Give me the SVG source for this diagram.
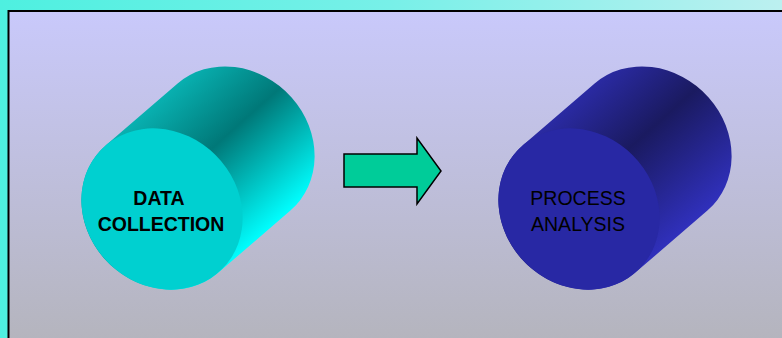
<svg xmlns="http://www.w3.org/2000/svg" width="782" height="338" viewBox="0 0 782 338">
  <defs>
    <linearGradient id="bgTop" x1="0" y1="0" x2="1" y2="0">
      <stop offset="0" stop-color="#4ef0e0"/>
      <stop offset="0.5" stop-color="#78f0e8"/>
      <stop offset="1" stop-color="#bcf0f0"/>
    </linearGradient>
    <linearGradient id="panel" x1="0" y1="0" x2="0" y2="1">
      <stop offset="0" stop-color="#c9c9fb"/>
      <stop offset="1" stop-color="#b0b0b0"/>
    </linearGradient>
    <linearGradient id="tealBody" gradientUnits="userSpaceOnUse" x1="177.6" y1="83.5" x2="290.4" y2="210.6">
      <stop offset="0" stop-color="#08b0b0"/>
      <stop offset="0.42" stop-color="#007878"/>
      <stop offset="1" stop-color="#00ffff"/>
    </linearGradient>
    <linearGradient id="blueBody" gradientUnits="userSpaceOnUse" x1="177.6" y1="83.5" x2="290.4" y2="210.6">
      <stop offset="0" stop-color="#2a2aa2"/>
      <stop offset="0.42" stop-color="#1a1a60"/>
      <stop offset="1" stop-color="#3030bc"/>
    </linearGradient>
  </defs>
  <style>
    .label { font-family: "Liberation Sans", Arial, sans-serif; font-size: 19.5px; fill: #000; text-anchor: middle; }
    .bold { font-weight: bold; }
  </style>

  <rect x="0" y="0" width="782" height="338" fill="url(#bgTop)"/>
  <rect x="8.5" y="11" width="800" height="400" fill="url(#panel)" stroke="#000" stroke-width="2"/>

  <g id="data-collection">
    <path d="M218.4,272.6 L290.4,210.6 A85 76 45 0 0 177.6,83.5 L105.6,145.5 A85 76 45 0 0 218.4,272.6 Z" fill="url(#tealBody)"/>
    <ellipse cx="162" cy="209" rx="85" ry="76" transform="rotate(45 162 209)" fill="#00d0d0"/>
    <text class="label bold" x="159" y="205">DATA</text>
    <text class="label bold" x="161" y="231">COLLECTION</text>
  </g>

  <g id="connectors">
    <path d="M344,154 L417,154 L417,138 L441,171 L417,204 L417,187 L344,187 Z" fill="#00cc99" stroke="#000" stroke-width="1.5" stroke-linejoin="miter"/>
  </g>

  <g id="process-analysis" transform="translate(417,0)">
    <path d="M218.4,272.6 L290.4,210.6 A85 76 45 0 0 177.6,83.5 L105.6,145.5 A85 76 45 0 0 218.4,272.6 Z" fill="url(#blueBody)"/>
    <ellipse cx="162" cy="209" rx="85" ry="76" transform="rotate(45 162 209)" fill="#2828a4"/>
    <text class="label" x="161" y="205">PROCESS</text>
    <text class="label" x="161" y="231">ANALYSIS</text>
  </g>
</svg>
